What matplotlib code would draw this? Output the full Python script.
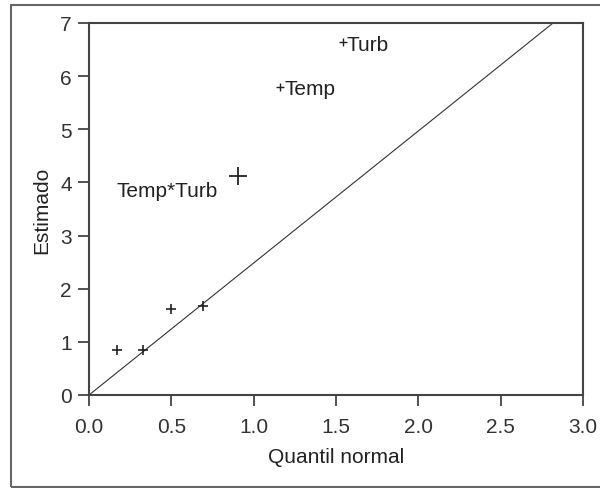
import numpy as np
import matplotlib
matplotlib.use("Agg")
import matplotlib.pyplot as plt
from matplotlib.patches import Rectangle

plt.rcParams['font.family'] = ['Liberation Sans', 'DejaVu Sans']

# effects: half-normal quantile vs estimated |effect|
small_x = [0.17, 0.33, 0.50, 0.69]
small_y = [0.85, 0.85, 1.62, 1.67]
named_x = [1.54, 1.16]
named_y = [6.64, 5.80]
named_lab = ['Turb', 'Temp']
inter_x = 0.905
inter_y = 4.13
inter_lab = 'Temp*Turb'
ref_slope = 2.484

fig = plt.figure(figsize=(6.0, 4.89), dpi=100)
fig.patches.append(Rectangle((11 / 600, 1 / 489), 600 / 600, 482 / 489,
                             transform=fig.transFigure, fill=False,
                             edgecolor='#666666', linewidth=1.5))
ax = fig.add_axes([89 / 600, 1 - 396 / 489, 494 / 600, 372 / 489])

xx = np.array([0.0, 7.0 / ref_slope])
ax.plot(xx, ref_slope * xx, color='#333333', lw=0.8)

ax.plot(small_x, small_y, '+', color='#222222', ms=7.5, mew=1.2, ls='none')
ax.plot(named_x, named_y, '+', color='#222222', ms=6, mew=1.0, ls='none')
for x, y, t in zip(named_x, named_y, named_lab):
    ax.annotate(t, (x, y), xytext=(3, -5.5), textcoords='offset points',
                ha='left', va='baseline', fontsize=15, color='#222222')
ax.plot([inter_x], [inter_y], '+', color='#222222', ms=13, mew=1.3, ls='none')
ax.annotate(inter_lab, (inter_x, inter_y), xytext=(-14.4, -14.4),
            textcoords='offset points', ha='right', va='baseline',
            fontsize=15, color='#222222')

ax.set_xlim(0, 3)
ax.set_ylim(0, 7)
ax.set_xticks(np.arange(0, 3.01, 0.5))
ax.set_xticklabels([f'{v:.1f}' for v in np.arange(0, 3.01, 0.5)])
ax.set_yticks(range(8))
ax.tick_params(direction='out', length=8, width=1.3, color='#444444',
               labelsize=15, labelcolor='#333333', pad=4.5)
ax.tick_params(axis='x', pad=7.5)
for s in ax.spines.values():
    s.set_linewidth(1.5)
    s.set_color('#444444')

ax.set_xlabel('Quantil normal', fontsize=15, color='#222222', labelpad=8)
ax.set_ylabel('Estimado', fontsize=15, color='#222222', labelpad=6)

fig.savefig('out.png', dpi=100)
